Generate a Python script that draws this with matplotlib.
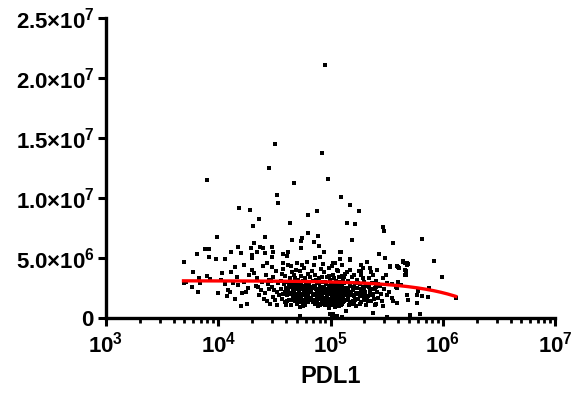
import numpy as np
import matplotlib
matplotlib.use("Agg")
import matplotlib.pyplot as plt
from matplotlib.ticker import LogLocator, NullFormatter

plt.rcParams['font.family'] = ['Liberation Sans', 'DejaVu Sans']
plt.rcParams['font.weight'] = 'bold'
plt.rcParams['mathtext.fontset'] = 'custom'
plt.rcParams['mathtext.rm'] = 'Liberation Sans:bold'
plt.rcParams['mathtext.it'] = 'Liberation Sans:bold'
plt.rcParams['mathtext.bf'] = 'Liberation Sans:bold'

# (PDL1 in thousands, signal in millions)
points = [
    # < 10k
    (5.0, 4.67), (5.9, 3.85), (4.9, 2.9), (5.8, 2.6), (6.6, 2.2), (6.7, 3.3), (6.9, 2.9),
    (7.9, 3.5), (8.4, 3.25), (9.9, 2.1), (6.5, 5.3), (7.6, 5.75), (8.3, 5.75), (8.3, 5.1),
    (9.5, 4.9), (9.7, 6.75), (7.9, 11.5), (5.2, 3.0),
    # 10k - 19k
    (10.8, 3.75), (11.4, 2.8), (12.2, 2.3), (12.7, 2.2), (13, 3.8), (14, 4.25), (14.7, 3.4),
    (15, 2.75), (16, 1.0), (18, 1.15), (16.2, 2.1), (17.5, 2.2), (11.4, 4.9), (13, 5.5),
    (15, 5.9), (16, 5.4), (15.3, 9.2), (10.5, 3.2), (12, 1.8), (14.2, 1.6), (17, 3.0),
    (18.5, 2.5), (13.5, 2.9), (16.8, 4.4), (18.8, 3.6),
    # 19k - 35k
    (19, 9.0), (23, 8.25), (20.5, 7.7), (26, 6.75), (21, 6.25), (19.5, 5.8), (20, 5.25),
    (22, 5.5), (23.5, 5.9), (25, 5.8), (26, 5.4), (30, 5.9), (31, 5.5), (30, 5.1), (20, 5.0),
    (28, 12.5), (32, 14.5), (33, 10.25), (34, 9.6),
    (20, 4.0), (21, 3.75), (22, 3.3), (22.5, 2.6), (24, 2.3), (26, 2.1), (28, 3.2), (30, 2.6),
    (30.5, 1.75), (32, 1.5), (27, 4.6), (30, 4.25), (24.5, 3.0), (25.5, 1.6), (27.5, 2.8),
    (29, 1.2), (31, 3.4), (33, 2.2), (34, 2.9), (23, 1.9), (26.5, 3.6), (28.5, 2.4),
    (32.5, 3.9), (34.5, 1.9), (21.5, 2.7), (33.5, 1.1), (29.5, 3.1), (25, 4.3), (31.5, 2.35),
    (27, 1.45),
    # 35k - 66k
    (47, 11.25), (43.5, 7.9), (63, 8.6), (63, 7.1), (45, 6.5), (56, 6.7), (55, 6.4), (54, 5.8),
    (42, 5.5), (38, 5.3), (41, 5.2),
    (36, 2.4), (36.5, 3.1), (37, 1.6), (37.5, 4.1), (38, 2.0), (38.5, 2.8), (39, 1.3),
    (39.5, 3.5), (40, 2.5), (40.5, 1.9), (41, 3.0), (41.5, 2.2), (42, 4.4), (42.5, 1.5),
    (43, 2.7), (43.5, 3.3), (44, 1.1), (44.5, 2.1), (45, 3.8), (45.5, 2.6), (46, 1.7),
    (46.5, 2.9), (47, 2.3), (47.5, 3.6), (48, 1.4), (48.5, 2.0), (49, 2.8), (49.5, 4.0),
    (50, 1.2), (50.5, 2.5), (51, 3.2), (51.5, 1.8), (52, 2.2), (52.5, 2.9), (53, 0.9),
    (53.5, 1.6), (54, 3.5), (54.5, 2.4), (55, 1.3), (55.5, 2.7), (56, 2.0), (56.5, 3.1),
    (57, 1.5), (57.5, 2.3), (58, 4.2), (58.5, 1.9), (59, 2.6), (59.5, 1.1), (60, 3.0),
    (60.5, 2.1), (61, 1.6), (61.5, 2.8), (62, 2.4), (62.5, 3.7), (63, 1.3), (63.5, 2.0),
    (64, 2.9), (64.5, 1.7), (65, 3.4), (65.5, 2.2), (37, 3.7), (39, 2.2), (41, 1.4), (43, 2.0),
    (45, 1.5), (47, 3.0), (49, 1.7), (51, 2.4), (53, 3.9), (55, 2.0), (57, 1.0), (59, 3.3),
    (61, 2.5), (63, 1.9), (65, 2.6), (38, 4.6), (44, 4.3), (50, 4.6), (56, 4.4), (62, 4.7),
    (53, 0.2), (48, 2.6), (52, 1.5), (58, 2.7), (46, 2.3),
    (40, 1.1), (42, 2.4), (44, 3.0), (46, 1.9), (48, 3.3), (50, 2.0), (52, 2.6), (54, 1.8),
    (56, 2.5), (58, 1.3), (60, 2.4), (62, 1.5), (64, 2.3), (45, 2.0), (55, 2.9), (60, 1.8),
    # 66k - 135k
    (89, 21.1), (84, 13.7), (95, 11.6), (76, 8.9), (77, 6.8), (71, 6.3), (79, 6.0), (87, 5.5),
    (120, 5.5), (72, 5.0), (80, 5.1), (120, 4.9), (124, 10.1), (124, 5.5), (110, 4.6),
    (105, 4.6),
    (67, 2.3), (68, 1.5), (69, 3.1), (70, 2.0), (71, 2.7), (72, 1.2), (73, 3.6), (74, 2.4),
    (75, 1.8), (76, 2.9), (77, 1.0), (78, 2.2), (79, 3.3), (80, 1.6), (81, 2.6), (82, 4.1),
    (83, 1.3), (84, 2.0), (85, 3.0), (86, 2.5), (87, 1.7), (88, 3.8), (89, 2.2), (90, 1.1),
    (91, 2.8), (92, 1.9), (93, 3.4), (94, 2.4), (95, 1.4), (96, 2.7), (97, 0.8), (98, 2.1),
    (99, 3.2), (100, 1.6), (101, 2.5), (102, 4.3), (103, 1.2), (104, 2.9), (105, 2.0),
    (106, 3.6), (107, 1.5), (108, 2.3), (109, 0.9), (110, 2.7), (111, 1.8), (112, 3.1),
    (113, 2.2), (114, 1.3), (115, 2.6), (116, 3.9), (117, 1.7), (118, 2.4), (119, 1.0),
    (120, 3.0), (121, 2.0), (122, 1.5), (123, 2.8), (124, 2.3), (125, 3.5), (126, 1.2),
    (127, 2.6), (128, 1.8), (129, 3.2), (130, 2.1), (131, 1.4), (132, 2.9), (133, 2.4),
    (134, 1.9), (135, 3.7), (68, 3.9), (70, 1.3), (72, 2.6), (74, 3.2), (76, 1.4), (78, 2.9),
    (80, 2.3), (82, 1.9), (84, 3.4), (86, 1.2), (88, 2.6), (90, 3.0), (92, 2.4), (94, 1.6),
    (96, 3.5), (98, 1.3), (100, 2.8), (102, 2.0), (104, 1.5), (106, 2.4), (108, 3.3),
    (110, 1.1), (112, 2.1), (114, 2.8), (116, 1.6), (118, 3.4), (120, 2.2), (122, 2.7),
    (124, 1.6), (126, 3.0), (128, 2.5), (130, 1.6), (132, 3.4), (134, 2.2), (69, 1.9),
    (75, 2.1), (81, 1.1), (87, 2.3), (93, 1.9), (99, 2.4), (105, 1.1), (111, 2.5), (117, 2.1),
    (123, 1.9), (129, 1.3), (71, 4.4), (85, 4.5), (97, 4.2), (113, 4.0), (127, 4.4),
    (99, 0.35), (103, 0.25), (106, 0.3), (110, 0.15), (115, 0.2), (125, 0.1),
    (67, 1.7), (70, 2.5), (73, 1.5), (76, 2.0), (79, 1.2), (82, 2.3), (85, 1.6), (88, 1.4),
    (91, 2.1), (94, 1.2), (97, 2.6), (100, 2.0), (103, 1.7), (106, 1.3), (109, 1.9),
    (112, 1.5), (115, 1.9), (118, 1.3), (121, 2.5), (124, 1.1), (127, 1.6), (130, 2.4),
    (133, 1.5), (78, 1.7), (90, 1.6), (101, 1.4), (114, 1.7), (126, 2.0),
    # 135k - 270k
    (140, 7.9), (165, 7.8), (149, 9.4), (179, 8.9), (155, 6.5), (150, 4.8), (210, 4.65),
    (186, 4.4), (195, 4.15), (260, 4.0), (270, 5.3), (150, 4.9),
    (137, 2.5), (140, 1.5), (143, 3.1), (146, 2.0), (149, 2.7), (152, 1.2), (155, 3.4),
    (158, 2.3), (161, 1.8), (164, 2.9), (167, 1.0), (170, 2.5), (173, 3.2), (176, 1.6),
    (179, 2.1), (182, 2.8), (185, 1.3), (188, 3.6), (191, 2.0), (194, 2.6), (197, 1.5),
    (200, 3.0), (204, 2.2), (208, 1.1), (212, 2.7), (216, 1.8), (220, 3.3), (224, 2.4),
    (228, 1.4), (232, 2.9), (236, 2.0), (240, 3.6), (244, 1.6), (248, 2.5), (252, 3.1),
    (256, 1.2), (260, 2.2), (265, 2.8), (139, 3.8), (145, 1.1), (151, 2.2), (157, 1.4),
    (163, 3.6), (169, 2.0), (175, 2.9), (181, 1.2), (187, 2.4), (193, 3.3), (199, 1.8),
    (206, 2.8), (214, 1.4), (222, 2.1), (230, 3.8), (238, 2.4), (246, 1.1), (254, 2.6),
    (262, 1.7), (142, 2.3), (160, 2.6), (178, 3.9), (196, 2.3), (218, 2.6), (240, 1.9),
    (138, 0.6), (240, 0.4), (150, 4.0), (185, 3.8), (225, 4.2),
    (144, 1.7), (154, 1.9), (166, 1.5), (172, 2.1), (184, 1.8), (198, 2.5), (210, 1.7),
    (226, 1.9), (148, 1.3), (162, 1.2),
    # > 270k
    (290, 7.6), (300, 7.25), (360, 6.25), (650, 6.6), (305, 5.0), (440, 4.75), (480, 4.6),
    (340, 4.25), (410, 4.15), (470, 3.9), (460, 3.6), (980, 3.4), (830, 4.75),
    (340, 4.33), (390, 4.3), (400, 4.25), (440, 4.7), (460, 4.6), (480, 4.4), (490, 4.5),
    (460, 4.0), (470, 3.6), (320, 2.9), (350, 2.85), (400, 3.0), (420, 2.75), (390, 2.5),
    (380, 2.6), (600, 2.25), (750, 2.5), (590, 1.9), (650, 1.85), (730, 1.75), (480, 1.9),
    (490, 1.5), (320, 1.9), (350, 1.65), (360, 1.4), (390, 1.25), (590, 1.25), (320, 0.1),
    (510, 0.25), (630, 0.35), (1300, 1.7), (280, 2.0), (290, 3.3), (300, 2.4), (285, 1.4),
    (310, 3.6), (330, 2.2), (275, 2.7), (295, 1.0),
]
pdl1 = np.array([p[0] for p in points]) * 1e3
signal = np.array([p[1] for p in points]) * 1e6

# linear regression line shown in red
fit_intercept = 3.1e6
fit_slope = -1.0

y_ticks = [0, 5e6, 1e7, 1.5e7, 2e7, 2.5e7]
y_tick_labels = ['$0$', r'$5.0{\times}10^{6}$', r'$1.0{\times}10^{7}$',
                 r'$1.5{\times}10^{7}$', r'$2.0{\times}10^{7}$', r'$2.5{\times}10^{7}$']
x_ticks = [1e3, 1e4, 1e5, 1e6, 1e7]
x_tick_labels = ['$10^{3}$', '$10^{4}$', '$10^{5}$', '$10^{6}$', '$10^{7}$']

fig = plt.figure(figsize=(5.76, 3.96), dpi=100)
ax = fig.add_axes([0.184, 0.197, 0.780, 0.758])

ax.scatter(pdl1, signal, s=7, marker='s', color='black', linewidths=0, zorder=2)

fx = np.logspace(np.log10(pdl1.min()), np.log10(pdl1.max()), 200)
ax.plot(fx, fit_intercept + fit_slope * fx, color='red', lw=2.4, zorder=3)

ax.set_xscale('log')
ax.set_xlim(1e3, 1e7)
ax.set_ylim(0, 2.5e7)
ax.set_xticks(x_ticks, labels=x_tick_labels)
ax.xaxis.set_minor_locator(LogLocator(base=10, subs=np.arange(2, 10)))
ax.xaxis.set_minor_formatter(NullFormatter())
ax.set_yticks(y_ticks, labels=y_tick_labels)

for side in ['top', 'right']:
    ax.spines[side].set_visible(False)
for side in ['left', 'bottom']:
    ax.spines[side].set_linewidth(2.4)

ax.tick_params(axis='both', which='major', length=6, width=2.2, labelsize=16, pad=2)
ax.tick_params(axis='x', which='minor', length=3.5, width=2)
ax.tick_params(axis='x', which='major', pad=4)

ax.set_xlabel('PDL1', fontsize=17, fontweight='bold', labelpad=5)

plt.savefig('out.png', dpi=100)
